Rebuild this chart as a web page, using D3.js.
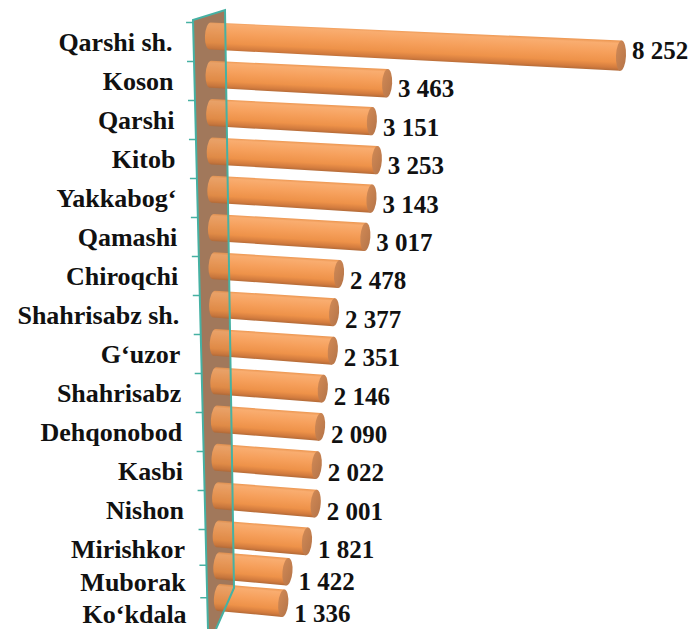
<!DOCTYPE html>
<html>
<head>
<meta charset="utf-8">
<script src="https://cdn.jsdelivr.net/npm/d3@7"></script>
</head>
<body style="margin:0">
<svg id="chart" width="696" height="629" style="display:block"></svg>
<script>
// Districts and their values
const categories = ["Qarshi sh.", "Koson", "Qarshi", "Kitob", "Yakkabog‘", "Qamashi", "Chiroqchi",
  "Shahrisabz sh.", "G‘uzor", "Shahrisabz", "Dehqonobod", "Kasbi", "Nishon", "Mirishkor",
  "Muborak", "Ko‘kdala"];
const values = [8252, 3463, 3151, 3253, 3143, 3017, 2478, 2377, 2351, 2146, 2090, 2022, 2001, 1821, 1422, 1336];

const svg = d3.select("#chart");
const defs = svg.append("defs");

// Row positions (slightly compressed toward the bottom, as in the 3D view)
const idx = d3.range(categories.length);
const rowY = d3.scaleLinear().domain([0, 13, 15]).range([42, 549, 614]);

// Value axis along the bars (zero sits at the back wall)
const x = d3.scaleLinear().domain([0, 8252]).range([218, 621]);

// Back wall geometry
const wallTL = [193, 20], wallTR = [225, 10], wallBR = [234, 588], wallBot = [216, 629], wallBL = [208, 629];
const leftEdgeX = y => wallTL[0] + (y - wallTL[1]) * (wallBL[0] - wallTL[0]) / (wallBL[1] - wallTL[1]);
const wallPts = [wallTL, wallTR, wallBR, wallBot, wallBL];

// Gradients
const body = defs.append("linearGradient").attr("id", "cyl")
  .attr("x1", 0).attr("y1", 0).attr("x2", 0).attr("y2", 1);
[[0, "#ec9650"], [0.1, "#f9ad70"], [0.4, "#f6a05c"], [0.72, "#ee9249"], [0.9, "#d27b3e"], [1, "#b26a38"]]
  .forEach(([o, c]) => body.append("stop").attr("offset", o).attr("stop-color", c));
const cap = defs.append("linearGradient").attr("id", "cap")
  .attr("x1", 0).attr("y1", 0).attr("x2", 1).attr("y2", 1);
[[0, "#d18a56"], [1, "#b57448"]]
  .forEach(([o, c]) => cap.append("stop").attr("offset", o).attr("stop-color", c));

// Wall
svg.append("polygon")
  .attr("points", wallPts.map(p => p.join(",")).join(" "))
  .attr("fill", "#a67d61");

// Cylinders
const rxL = 5, rxR = 5;
svg.append("g").selectAll("g").data(idx).join("g")
  .each(function(i) {
    const g = d3.select(this);
    const xl = 205 + 0.6 * i;
    const cyL = rowY(i) - (6 + 0.7 * i);
    const slope = 0.048 + 0.0028 * i;
    const ang = Math.atan(slope);
    const xr = x(values[i]);
    const len = (xr - xl - rxL) / Math.cos(ang);
    const r0 = 13.5, r1 = 13.5 + len * 0.004;
    g.attr("transform", `translate(${xl + rxL},${cyL}) rotate(${ang * 180 / Math.PI})`);
    g.append("path")
      .attr("d", `M0,${-r0} L${len},${-r1} L${len},${r1} L0,${r0} A${rxL},${r0} 0 0 1 0,${-r0} Z`)
      .attr("fill", "url(#cyl)");
    g.append("ellipse")
      .attr("cx", len).attr("cy", 0).attr("rx", rxR).attr("ry", r1)
      .attr("fill", "url(#cap)");
  });

// Translucent wall in front of the bar roots
svg.append("polygon")
  .attr("points", wallPts.map(p => p.join(",")).join(" "))
  .attr("fill", "#8a5a3c").attr("opacity", 0.14);

// Wall edges
const teal = "#46b1a3";
svg.append("path")
  .attr("d", d3.line()([wallBL, wallTL, wallTR, wallBR, wallBot]))
  .attr("fill", "none").attr("stroke", teal).attr("stroke-width", 2);

// Category ticks on the wall's left edge
svg.append("g").selectAll("line").data(d3.range(-0.5, categories.length - 0.5, 1)).join("line")
  .attr("x1", k => leftEdgeX(rowY(k)) - 7)
  .attr("x2", k => leftEdgeX(rowY(k)))
  .attr("y1", k => rowY(k)).attr("y2", k => rowY(k))
  .attr("stroke", teal).attr("stroke-width", 1.5);

// Category labels
const fmt = v => d3.format(",")(v).replace(/,/g, " ");
svg.append("g").selectAll("text").data(idx).join("text")
  .attr("x", i => leftEdgeX(rowY(i)) - 21)
  .attr("y", i => rowY(i) + 9)
  .attr("text-anchor", "end")
  .style("font-family", '"Times New Roman"')
  .style("font-weight", "bold")
  .style("font-size", "26px")
  .style("fill", "#111")
  .text(i => categories[i]);

// Value labels
svg.append("g").selectAll("text").data(idx).join("text")
  .attr("x", i => x(values[i]) + 11)
  .attr("y", i => rowY(i) + 17 - 0.6 * i)
  .style("font-family", "Tinos")
  .style("font-weight", "bold")
  .style("font-size", "25px")
  .style("fill", "#111")
  .text(i => fmt(values[i]));
</script>
</body>
</html>
